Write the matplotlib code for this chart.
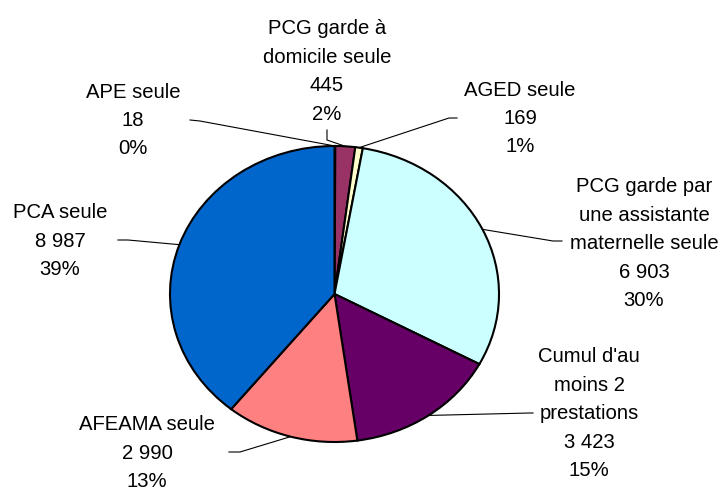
import numpy as np
import matplotlib
matplotlib.use("Agg")
import matplotlib.pyplot as plt

# ---- data ----
categories = ["APE seule", "PCG garde à\ndomicile seule", "AGED seule",
              "PCG garde par\nune assistante\nmaternelle seule",
              "Cumul d'au\nmoins 2\nprestations", "AFEAMA seule", "PCA seule"]
values = [18, 445, 169, 6903, 3423, 2990, 8987]
colors = ["#9999FF", "#993366", "#FFFFCC", "#CCFFFF", "#660066", "#FF8080", "#0066CC"]

# ---- layout (pixels) ----
W, H, DPI = 724, 487, 100
CX, CY, RX, RY = 334.5, 294.0, 164.5, 148.0

def px(x, y):
    return ((x - CX) / RX, (CY - y) / RY)

fig = plt.figure(figsize=(W / DPI, H / DPI), dpi=DPI)
ax = fig.add_axes([0, 0, 1, 1])
wedges, _ = ax.pie(values, colors=colors, startangle=90, counterclock=False,
                   radius=1.0, center=(0, 0),
                   wedgeprops=dict(edgecolor="black", linewidth=1.5))
ax.set_aspect("auto")
ax.set_xlim((0 - CX) / RX, (W - CX) / RX)
ax.set_ylim((CY - H) / RY, (CY - 0) / RY)
ax.axis("off")

total = sum(values)

# label block: (center x of text, y of first line) and leader path points (label side)
label_pos = [
    (133, 90), (327, 27), (520, 88), (644, 185), (589, 355), (147, 423), (60, 211)
]
leader_pts = [
    [(190, 120), (200, 121)],
    [(327, 130), (327, 140)],
    [(457, 118), (449, 118)],
    [(562, 241), (553, 241)],
    [(533, 413), (530, 413)],
    [(229, 452), (240, 452)],
    [(118, 240), (128, 240)],
]
LINE = 28.4

for i, (w, cat, v) in enumerate(zip(wedges, categories, values)):
    pct = f"{round(100 * v / total):d}%"
    vstr = f"{v:,}".replace(",", " ")
    lines = cat.split("\n") + [vstr, pct]
    lx, ly = label_pos[i]
    for j, t in enumerate(lines):
        x, y = px(lx, ly + j * LINE)
        ax.text(x, y, t, ha="center", va="center_baseline", fontsize=14.6,
                family="Liberation Sans", color="black")
    mid = np.deg2rad((w.theta1 + w.theta2) / 2)
    ex, ey = np.cos(mid), np.sin(mid)
    pts = [px(*p) for p in leader_pts[i]] + [(ex, ey)]
    xs, ys = zip(*pts)
    ax.plot(xs, ys, color="black", linewidth=0.8)

fig.savefig("out.png", dpi=DPI)
